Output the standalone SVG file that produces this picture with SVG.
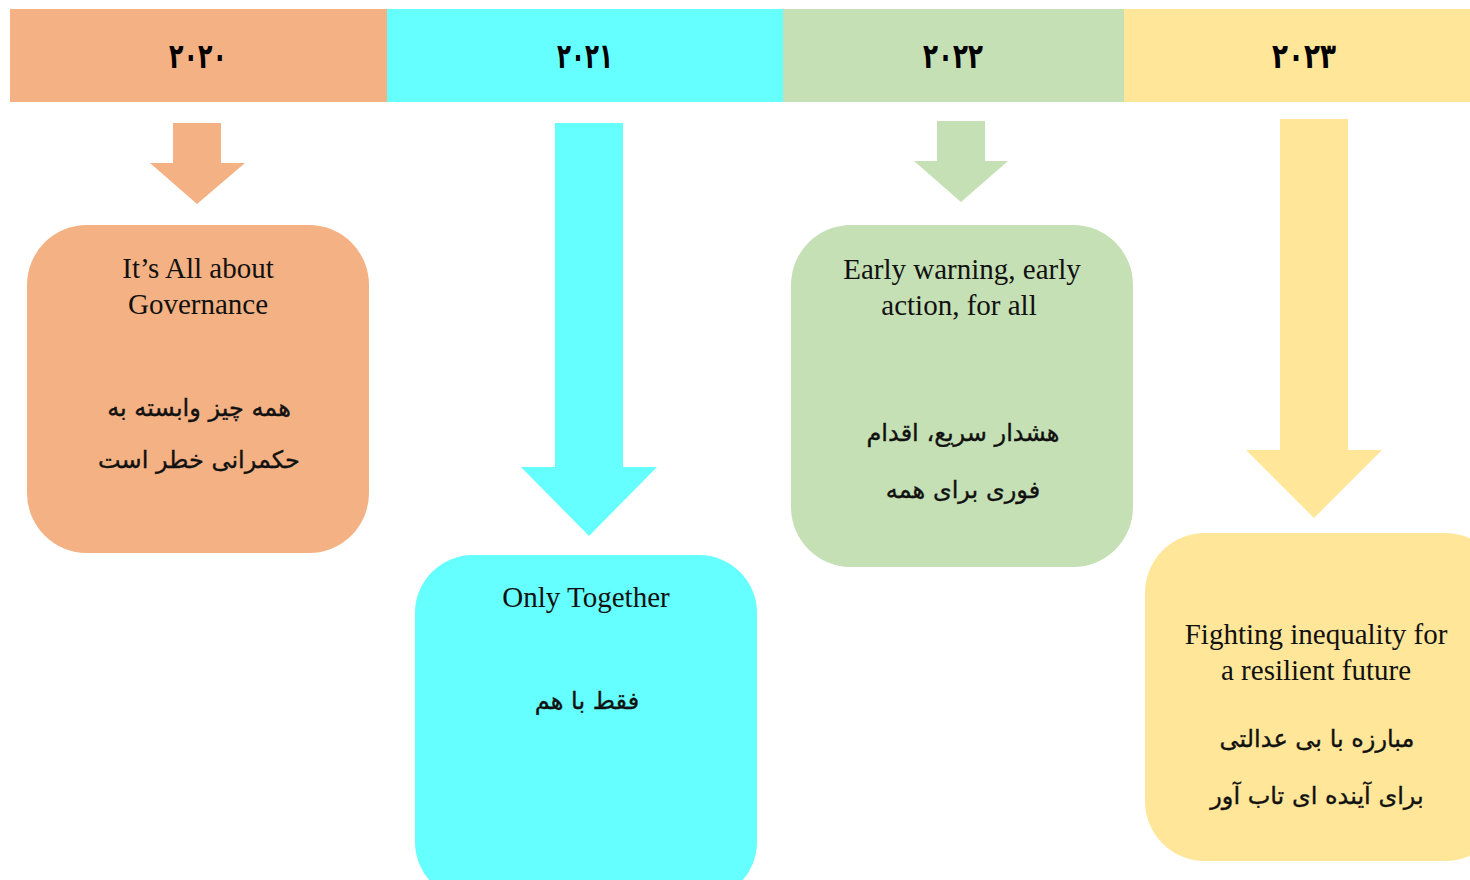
<svg xmlns="http://www.w3.org/2000/svg" width="1470" height="880" viewBox="0 0 1470 880">
  <style>
    .year { font-family: "DejaVu Sans", "Liberation Serif", sans-serif; font-size: 35px; font-weight: bold; fill: #000; text-anchor: middle; }
    .en { font-family: "Liberation Serif", "Times New Roman", serif; font-size: 29px; fill: #111; text-anchor: middle; }
    .fa { font-family: "DejaVu Sans", "Noto Sans", sans-serif; font-size: 24px; fill: #111; stroke: #111; stroke-width: 0.35; text-anchor: middle; direction: rtl; }
    .c2020 { fill: #F4B183; }
    .c2021 { fill: #66FFFF; }
    .c2022 { fill: #C5E0B4; }
    .c2023 { fill: #FFE699; }
  </style>
  <rect width="1470" height="880" fill="#FFFFFF"/>

  <!-- year band -->
  <g id="years">
    <rect class="c2020" x="10" y="9" width="377" height="93"/>
    <rect class="c2021" x="387" y="9" width="396" height="93"/>
    <rect class="c2022" x="783" y="9" width="341" height="93"/>
    <rect class="c2023" x="1124" y="9" width="346" height="93"/>
    <text class="year" x="198" y="68" textLength="58" lengthAdjust="spacingAndGlyphs">۲۰۲۰</text>
    <text class="year" x="585" y="68" textLength="56" lengthAdjust="spacingAndGlyphs">۲۰۲۱</text>
    <text class="year" x="953" y="68" textLength="60" lengthAdjust="spacingAndGlyphs">۲۰۲۲</text>
    <text class="year" x="1304" y="68" textLength="64" lengthAdjust="spacingAndGlyphs">۲۰۲۳</text>
  </g>

  <!-- block arrows from each year down to its theme -->
  <g id="connectors">
    <polygon class="c2020" points="173,123 221,123 221,163 245,163 197,204 150,163 173,163"/>
    <polygon class="c2021" points="555,123 623,123 623,467 657,467 589,536 521,467 555,467"/>
    <polygon class="c2022" points="937,121 985,121 985,161 1008,161 961,202 914,161 937,161"/>
    <polygon class="c2023" points="1280,119 1348,119 1348,450 1382,450 1314,518 1246,450 1280,450"/>
  </g>

  <g id="theme-2020">
    <rect class="c2020" x="27" y="225" width="342" height="328" rx="60" ry="60"/>
    <text class="en" x="198" y="278">It’s All about</text>
    <text class="en" x="198" y="314">Governance</text>
    <text class="fa" x="199" y="416">همه چیز وابسته به</text>
    <text class="fa" x="199" y="468">حکمرانی خطر است</text>
  </g>

  <g id="theme-2021">
    <rect class="c2021" x="415" y="555" width="342" height="345" rx="58" ry="58"/>
    <text class="en" x="586" y="607">Only Together</text>
    <text class="fa" x="587" y="709">فقط با هم</text>
  </g>

  <g id="theme-2022">
    <rect class="c2022" x="791" y="225" width="342" height="342" rx="60" ry="60"/>
    <text class="en" x="962" y="279">Early warning, early</text>
    <text class="en" x="959" y="315">action, for all</text>
    <text class="fa" x="963" y="441">هشدار سریع، اقدام</text>
    <text class="fa" x="963" y="498">فوری برای همه</text>
  </g>

  <g id="theme-2023">
    <rect class="c2023" x="1145" y="533" width="360" height="328" rx="60" ry="60"/>
    <text class="en" x="1316" y="644">Fighting inequality for</text>
    <text class="en" x="1316" y="680">a resilient future</text>
    <text class="fa" x="1317" y="747">مبارزه با بی عدالتی</text>
    <text class="fa" x="1317" y="804">برای آینده ای تاب آور</text>
  </g>
</svg>
